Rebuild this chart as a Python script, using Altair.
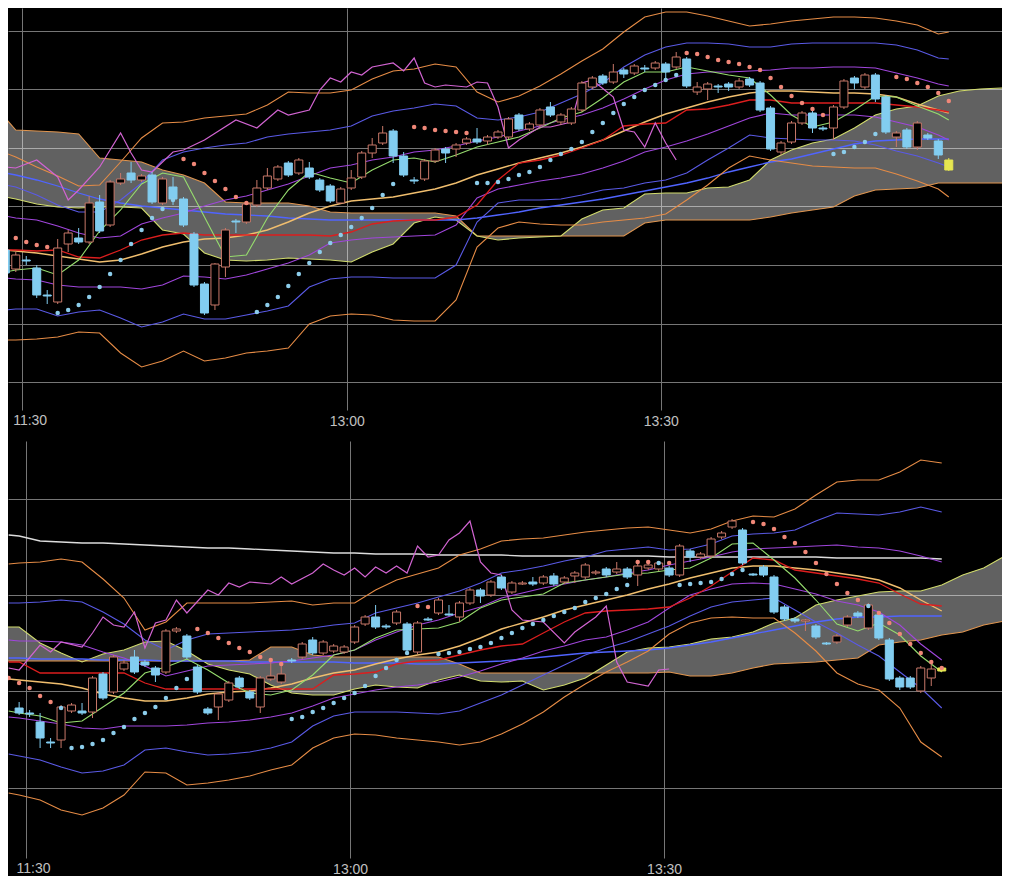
import altair as alt
import pandas as pd

# ---------------------------------------------------------------- time axis
TIME_LABELS = ["11:30", "13:00", "13:30"]
TIME_POS = [0.61, 31.57, 61.52]

# ================================================================ TOP PANEL
T_CJ = list(range(-1, 90))
T_OPEN = [750,731,740,732,705,698,756,762,758,798, 775,817,827,820,825,797,813,801,766,716,
          695,733,779,778,795,812,821,837,827,832, 820,814,797,812,823,847,857,869,844,820,
          821,839,851,851,857,861,859,863,863,885, 871,875,893,878,877,890,913,924,918,930,
          927,932,932,936,933,941,908,911,914,916, 913,921,917,892,848,858,877,887,872,872,
          893,922,913,925,903,863,870,853,865,859, 840]
T_HIGH = [753,748,744,735,710,761,770,772,804,805, 820,827,838,826,828,823,823,803,768,718,
          737,772,781,798,820,832,835,839,842,838, 822,816,813,830,849,862,874,871,848,823,
          841,852,853,857,863,872,865,870,883,887, 878,892,898,887,893,919,924,926,936,932,
          936,935,939,938,948,943,918,918,916,918, 922,923,919,894,859,879,889,889,874,895,
          921,924,927,927,905,869,872,879,867,861, 842]
T_LOW = [724,728,735,702,696,696,748,756,756,767, 773,815,817,818,796,795,795,773,713,685,
         690,723,767,776,793,810,819,823,825,821, 808,797,796,810,821,842,855,837,823,816,
         819,837,837,843,855,856,855,861,861,869, 869,873,883,875,875,888,911,915,916,922,
         925,928,930,922,931,912,905,900,907,909, 911,913,888,849,845,856,875,867,869,860,
         891,911,911,898,866,853,851,850,860,841, 829]
T_CLOSE = [727,745,739,705,704,752,767,758,797,769, 818,821,820,824,798,821,801,775,715,687,
           736,770,778,796,812,824,833,825,840,823, 810,799,811,822,847,855,867,844,825,819,
           839,850,847,855,861,858,863,868,881,871, 876,890,885,885,891,917,922,917,928,926,
           934,931,937,928,943,914,913,916,913,913, 919,915,890,851,857,877,887,872,871,893,
           919,917,925,901,868,867,853,877,862,845, 830]

T_LX = [-1, 0] + list(range(2, 89, 2)) + [89]
T_BB3U = [847,843,833,824,814,815,838,862,877,878,882,884,886,895,908,907,907,910,921,929,
          931,936,933,908,898,904,914,926,939,951,968,983,988,988,984,979,974,976,979,981,
          983,983,982,979,975,966,968]
T_BB3L = [660,660,661,663,668,667,647,633,639,649,639,642,647,649,652,676,684,686,685,680,
          679,679,700,753,772,778,776,775,775,778,780,782,786,800,815,832,844,840,837,834,
          833,832,832,826,819,811,803]
T_BB2U = [815,813,805,795,788,788,800,817,840,848,852,855,857,863,866,868,870,874,884,889,
          892,896,894,882,880,883,888,897,906,917,933,945,953,957,957,956,953,953,956,957,
          957,957,957,955,950,942,941]
T_BB2L = [690,691,691,684,688,690,682,673,678,686,681,681,685,689,694,713,721,723,723,722,
          722,722,735,778,797,800,800,801,805,810,812,817,820,827,840,852,865,862,861,860,
          860,859,855,849,844,837,833]
T_BB1U = [784,782,780,774,767,762,764,776,782,787,794,800,804,810,816,824,832,835,840,843,
          848,850,854,859,863,869,874,880,885,892,901,911,920,926,928,928,929,930,932,932,
          933,933,932,927,922,916,914]
T_BB1L = [722,721,720,715,713,713,713,711,715,724,723,721,725,731,737,745,757,760,762,763,
          764,765,775,802,811,815,819,822,826,832,839,848,853,859,866,874,882,887,885,885,
          885,885,883,878,873,865,860]
T_MID = [750,749,747,744,741,738,740,746,753,758,761,762,765,770,778,787,794,799,801,803,
         807,811,817,825,831,837,842,847,853,860,869,878,886,892,898,903,907,909,909,908,
         907,907,906,903,896,890,887]
T_RED = [750,750,749,750,743,742,750,760,765,767,765,765,765,765,765,765,764,768,776,779,
         780,780,783,795,820,837,840,845,852,860,874,876,877,890,891,895,900,900,897,897,
         897,897,897,895,893,890,888]
T_LBLUE = [827,825,820,814,807,801,797,794,792,790,788,786,785,784,782,781,780,780,780,780,
           780,780,780,782,785,788,792,795,798,801,805,809,813,817,822,828,833,838,841,846,
           851,856,859,860,861,861,861]
T_GREEN = [728,730,732,725,740,769,790,816,827,823,783,743,745,782,810,828,822,817,830,840,
           842,838,845,853,858,863,872,882,888,902,918,928,928,933,929,925,922,905,885,873,
           878,890,904,903,894,886,880]

CX = [-2, -1, 0] + list(range(2, 89, 2)) + [90, 92, 94, 95]
T_SPANA = [805,803,801,796,793,792,793,793,792,770,766,747,740,739,740,742,741,740,738,748,
           756,777,783,780,764,760,762,763,764,781,790,792,806,807,807,812,813,820,840,850,
           857,861,872,885,891,894,904,909,911,912,912]
T_SPANB = [888,882,870,869,868,866,842,840,838,830,825,817,798,797,797,797,794,788,787,787,
           787,787,787,784,764,764,764,764,764,764,764,764,777,780,780,780,780,780,783,787,
           790,793,804,810,811,812,817,817,817,817,817]

T_MAG_X = [-1,0,2,4,5,6,8,10,11,12,13,14,15,16,18,21,23,25,26,28,29,30,31,32,33,34,36,37,38,39,
           40,41,43,44,45,46,47,48,50,51,53,54,55,57,58,59,60,61,62,63]
T_MAG = [833,832,840,823,800,810,833,867,847,830,828,838,848,850,860,880,872,890,885,890,
         910,922,918,928,925,933,937,929,942,917,913,915,913,918,917,893,852,860,873,873,
         878,917,920,903,870,868,853,877,857,840]

T_SAR_X = list(range(-1, 37)) + list(range(38, 83)) + list(range(84, 90))
T_SAR = [765,762,758,755,753,687,690,695,703,713,726,740,756,770,782,791,800,841,836,827,
         819,811,803,797,688,695,703,714,726,737,748,757,765,773,782,792,805,816,
         873,872,870,869,868,867,817,817,818,821,825,828,833,840,846,851,858,868,877,887,
         896,903,910,915,920,925,947,946,943,940,938,936,933,930,922,913,904,897,891,885,
         846,848,853,858,866,
         923,921,917,913,907,899]

# ============================================================= BOTTOM PANEL
B_CJ = list(range(0, 89))
B_OPEN = [732,727,718,698,700,729,729,728,766,748, 771,783,778,772,768,809,804,773,731,733,
          740,762,748,733,761,758,780,783,800,787, 789,788,798,816,823,814,817,816,788,821,
          827,826,823,837,850,845,863,848,856,858, 857,864,858,864,863,867,871,868,871,865,
          872,871,872,865,889,883,884,903,913,910, 866,873,863,833,821,819,814,797,798,815,
          827,812,825,800,762,762,749,762,772]
B_HIGH = [738,730,727,702,735,737,737,764,768,785, 780,790,780,774,811,813,806,775,733,748,
          759,764,750,764,782,777,782,798,803,800, 796,795,815,825,835,816,830,818,819,823,
          842,835,839,852,852,860,865,859,859,863, 865,867,864,869,877,870,873,878,873,876,
          877,879,874,896,891,888,903,909,921,912, 867,875,865,835,823,821,816,798,806,825,
          829,837,827,802,764,764,774,777,773]
B_LOW = [725,723,692,692,692,727,725,722,740,746, 769,766,773,758,766,807,781,746,725,720,
         738,751,740,727,759,756,777,781,785,785, 787,786,796,814,811,811,815,788,786,819,
         825,824,818,835,837,843,850,846,855,854, 855,854,856,857,861,865,863,866,861,854,
         870,869,863,863,878,881,882,901,911,875, 864,863,826,819,817,809,801,795,796,813,
         822,810,800,759,750,751,747,754,768]
B_CLOSE = [727,726,702,697,733,735,727,762,742,783, 777,768,775,765,809,811,783,748,727,746,
           757,753,742,762,764,766,779,796,787,798, 794,793,813,823,813,813,828,790,817,820,
           840,825,837,850,844,858,852,857,857,856, 863,856,862,867,875,868,865,871,863,874,
           875,877,865,894,883,886,901,907,919,877, 865,865,828,821,819,820,803,796,804,823,
           824,835,802,761,753,753,772,771,769]

B_LX = [-1, 0] + list(range(2, 89, 2))
B_BB3U = [876,877,878,881,878,861,842,810,818,837,837,837,837,838,839,835,837,837,850,860,
          866,872,885,891,899,901,902,905,908,910,912,913,910,907,911,919,924,923,931,945,
          958,960,960,968,980,977]
B_BB3L = [647,645,640,630,625,632,645,668,667,655,657,660,664,670,675,692,702,706,705,702,
          700,698,695,698,706,716,728,743,756,768,778,789,806,817,822,823,822,822,807,789,
          767,756,750,732,698,683]
B_BB2U = [837,837,838,840,838,828,816,800,790,800,806,807,808,809,810,812,815,817,827,832,
          837,843,849,857,867,870,874,879,883,889,891,893,890,891,896,904,906,907,910,919,
          927,926,925,928,933,928]
B_BB2L = [686,684,680,673,667,669,675,690,692,688,685,686,688,692,698,714,724,728,728,728,
          727,726,729,737,745,755,765,775,785,792,798,806,814,824,833,838,840,842,830,818,
          807,795,784,768,752,732]
B_BB1U = [800,799,799,798,795,788,782,774,764,769,774,775,776,777,779,782,785,790,800,808,
          815,820,827,833,842,847,852,856,860,863,867,870,875,879,883,888,891,892,893,894,
          895,893,892,889,884,878]
B_BB1L = [723,722,719,716,712,711,714,714,714,715,717,718,720,723,727,734,742,746,750,753,
          755,758,763,769,776,782,789,794,800,803,810,818,832,845,851,856,857,856,851,846,
          839,835,828,815,796,780]
B_MID = [761,760,758,756,752,746,742,739,739,742,746,748,749,752,756,762,767,770,776,781,
         785,788,794,802,811,817,823,830,835,840,845,851,856,862,867,872,874,874,872,870,
         867,864,860,852,840,829]
B_RED = [778,778,767,767,767,767,767,757,751,751,751,751,751,751,751,751,765,766,768,776,
         779,780,785,790,794,796,807,818,827,829,830,831,833,842,854,868,882,880,870,867,
         864,861,857,846,836,834]
B_GREEN = [729,727,724,717,719,733,747,767,773,781,770,757,747,745,750,765,785,790,802,810,
           811,812,818,832,840,843,846,857,860,863,866,867,870,872,882,896,897,880,862,840,
           816,809,817,805,784,768]
B_LBLUE = [782,782,781,781,781,780,780,780,779,779,779,779,778,778,778,778,778,777,777,777,
           776,776,777,778,779,781,783,785,787,788,789,790,792,795,798,802,806,810,814,818,
           821,823,823,824,824,824]
B_WHITE = [905,904,899,898,897,897,896,895,894,893,892,892,891,890,889,888,887,887,886,886,
           886,885,885,885,885,884,884,884,884,884,884,884,883,883,883,883,883,883,883,883,
           882,882,882,882,882,881]

B_SPANA = [813,813,813,797,787,778,786,790,798,799,789,776,770,766,755,747,745,745,751,755,
           753,752,760,765,759,758,759,750,755,762,775,788,792,793,796,801,803,808,817,822,
           835,840,844,848,849,849,855,865,872,884,885]
B_SPANB = [779,779,779,779,779,779,779,779,779,779,779,779,779,780,793,793,785,783,783,783,
           783,783,783,776,767,767,767,767,767,767,767,767,767,768,764,764,767,772,776,777,
           778,780,782,795,798,800,805,808,815,819,820]

B_MAG_X = [-1,0,2,3,4,6,7,8,9,10,11,12,13,14,15,16,18,19,20,21,22,24,25,26,28,29,30,31,32,33,
           34,35,36,37,38,39,40,41,42,43,44,45,46,47,48,50,52,53,55,56,57,58,60,61,62]
B_MAG = [772,770,795,788,798,793,807,823,815,813,828,792,817,820,840,827,850,845,857,853,
         858,856,863,856,867,876,870,865,872,863,873,867,874,867,894,883,885,900,907,919,
         878,867,865,830,820,818,797,808,823,834,778,758,754,770,771]

B_SAR_X = list(range(-1, 89))
B_SAR = [762,757,752,744,738,732,692,693,696,700,707,713,721,727,733,742,752,761,811,807,
         802,797,792,788,783,780,776,721,723,728,732,737,742,747,754,764,772,780,787,834,
         833,786,787,788,791,793,797,802,807,812,816,820,824,828,832,838,842,846,851,855,
         878,878,877,877,855,856,857,858,861,866,870,918,916,911,903,897,888,877,866,856,
         847,840,834,827,817,806,796,787,778,772]

# ---------------------------------------------------------------- styling
W = 994
GRID = "#767676"
LABEL = "#c0c0c0"
FONT = "Liberation Sans"
C_BB3, C_BB2, C_BB1 = "#e68c46", "#5a5ae6", "#a046dc"
C_MID, C_RED, C_GREEN = "#f0be6e", "#dc1e1e", "#96dc6e"
C_LBLUE, C_MAG, C_WHITE = "#5064ff", "#d264d2", "#dcdcdc"
C_SPANA, C_SPANB = "#d2dc6e", "#e19650"
C_UP, C_DOWN, C_LAST = "#c87869", "#82cdf0", "#e6e650"
C_SAR_DN, C_SAR_UP = "#f08778", "#8ccdeb"

# axis labels for all but the first time mark (the first is drawn as an edge text mark)
LABEL_EXPR = "'" + TIME_LABELS[-1] + "'"
for _i in range(len(TIME_POS) - 2, -1, -1):
    _lab = TIME_LABELS[_i] if _i > 0 else ""
    LABEL_EXPR = f"datum.value < {TIME_POS[_i] + 1} ? '{_lab}' : ({LABEL_EXPR})"


def frame(xs, **cols):
    n = min([len(xs)] + [len(v) for v in cols.values()])
    d = {"j": list(xs)[:n]}
    for k, v in cols.items():
        d[k] = list(v)[:n]
    return pd.DataFrame(d)


def candles(js, o, h, l, c):
    df = frame(js, o=o, h=h, l=l, c=c)
    last = df["j"].max()
    df["kind"] = ["last" if j == last else ("up" if cc >= oo else "down")
                  for j, oo, cc in zip(df["j"], df["o"], df["c"])]
    return df


def sar(xs, vals, cdf):
    s = frame(xs, v=vals)
    close = dict(zip(cdf["j"], cdf["c"]))
    first = cdf["c"].iloc[0]
    s["above"] = [v > close.get(j, first) for j, v in zip(s["j"], s["v"])]
    return s


def panel(xdom, ydom, ygrid, height, lpad, lines, styles, cloud, mag, cdf, sdf):
    xs = alt.Scale(domain=xdom, nice=False, zero=False)
    ys = alt.Scale(domain=ydom, nice=False, zero=False)
    x_axis = alt.Axis(values=TIME_POS, grid=True, gridColor=GRID, gridWidth=1,
                      ticks=False, domain=False, labelExpr=LABEL_EXPR,
                      labelColor=LABEL, labelFont=FONT, labelFontSize=14,
                      labelPadding=lpad, labelBaseline="top", labelFlush=False, title=None)
    y_axis = alt.Axis(values=ygrid, grid=True, gridColor=GRID, gridWidth=1,
                      labels=False, ticks=False, domain=False, title=None)

    def X():
        return alt.X("j:Q", scale=xs, axis=x_axis)

    def Y(f):
        return alt.Y(f + ":Q", scale=ys, axis=y_axis)

    layers = [alt.Chart(cloud).mark_area(color="#ffffff", opacity=0.38, clip=True).encode(
        x=X(), y=Y("a"), y2="b:Q")]

    def line(df, f, color, w):
        return alt.Chart(df).mark_line(color=color, strokeWidth=w, clip=True).encode(x=X(), y=Y(f))

    layers.append(line(cloud, "b", C_SPANB, 1.1))
    layers.append(line(cloud, "a", C_SPANA, 1.1))
    for f, color, w in styles:
        layers.append(line(lines, f, color, w))
    layers.append(line(mag, "v", C_MAG, 1.2))

    kinds = [("up", C_UP, "#000000"), ("down", C_DOWN, C_DOWN), ("last", C_LAST, C_LAST)]
    for kind, stroke, fill in kinds:
        sub = cdf[cdf["kind"] == kind]
        layers.append(alt.Chart(sub).mark_rule(color=stroke, strokeWidth=1, clip=True).encode(
            x=X(), y=Y("l"), y2="h:Q"))
    for kind, stroke, fill in kinds:
        sub = cdf[cdf["kind"] == kind]
        layers.append(alt.Chart(sub).mark_bar(width=8, fill=fill, stroke=stroke, strokeWidth=1,
                                              clip=True).encode(x=X(), y=Y("o"), y2="c:Q"))
    for flag, color in [(True, C_SAR_DN), (False, C_SAR_UP)]:
        sub = sdf[sdf["above"] == flag]
        layers.append(alt.Chart(sub).mark_circle(size=20, color=color, opacity=1, clip=True).encode(
            x=X(), y=Y("v")))

    # first time label, clipped at the left edge like the original view
    first = pd.DataFrame({"j": [TIME_POS[0]], "t": [TIME_LABELS[0]], "y": [ydom[0]]})
    layers.append(alt.Chart(first).mark_text(
        align="left", baseline="top", dx=-9, dy=lpad, font=FONT, fontSize=14, color=LABEL
    ).encode(x=X(), y=Y("y"), text="t:N"))
    return alt.layer(*layers).properties(width=W, height=height)


top_c = candles(T_CJ, T_OPEN, T_HIGH, T_LOW, T_CLOSE)
top_lines = frame(T_LX, bb3u=T_BB3U, bb3l=T_BB3L, bb2u=T_BB2U, bb2l=T_BB2L, bb1u=T_BB1U,
                  bb1l=T_BB1L, mid=T_MID, red=T_RED, lblue=T_LBLUE, green=T_GREEN)
top_styles = [("lblue", C_LBLUE, 1.3), ("bb3u", C_BB3, 1.1), ("bb3l", C_BB3, 1.1),
              ("bb2u", C_BB2, 1.1), ("bb2l", C_BB2, 1.1), ("bb1u", C_BB1, 1.1),
              ("bb1l", C_BB1, 1.1), ("mid", C_MID, 1.4), ("red", C_RED, 1.3),
              ("green", C_GREEN, 1.1)]
top = panel([-0.264, 93.60], [590, 992], [617.8, 676.4, 735.0, 793.6, 852.2, 910.8, 969.4],
            402, 4, top_lines, top_styles, frame(CX, a=T_SPANA, b=T_SPANB),
            frame(T_MAG_X, v=T_MAG), top_c, sar(T_SAR_X, T_SAR, top_c))

bot_c = candles(B_CJ, B_OPEN, B_HIGH, B_LOW, B_CLOSE)
bot_lines = frame(B_LX, bb3u=B_BB3U, bb3l=B_BB3L, bb2u=B_BB2U, bb2l=B_BB2L, bb1u=B_BB1U,
                  bb1l=B_BB1L, mid=B_MID, red=B_RED, lblue=B_LBLUE, green=B_GREEN, white=B_WHITE)
bot_styles = [("white", C_WHITE, 1.3)] + top_styles
bottom = panel([-0.585, 93.27], [582, 999], [652.0, 749.3, 845.0, 940.7],
               417, 4, bot_lines, bot_styles, frame(CX, a=B_SPANA, b=B_SPANB),
               frame(B_MAG_X, v=B_MAG), bot_c, sar(B_SAR_X, B_SAR, bot_c))

chart = alt.vconcat(top, bottom, spacing=13).properties(
    background="#000000", padding=0
).configure_view(stroke=None)

chart.save("out.html", embed_options={"renderer": "svg", "actions": False})
